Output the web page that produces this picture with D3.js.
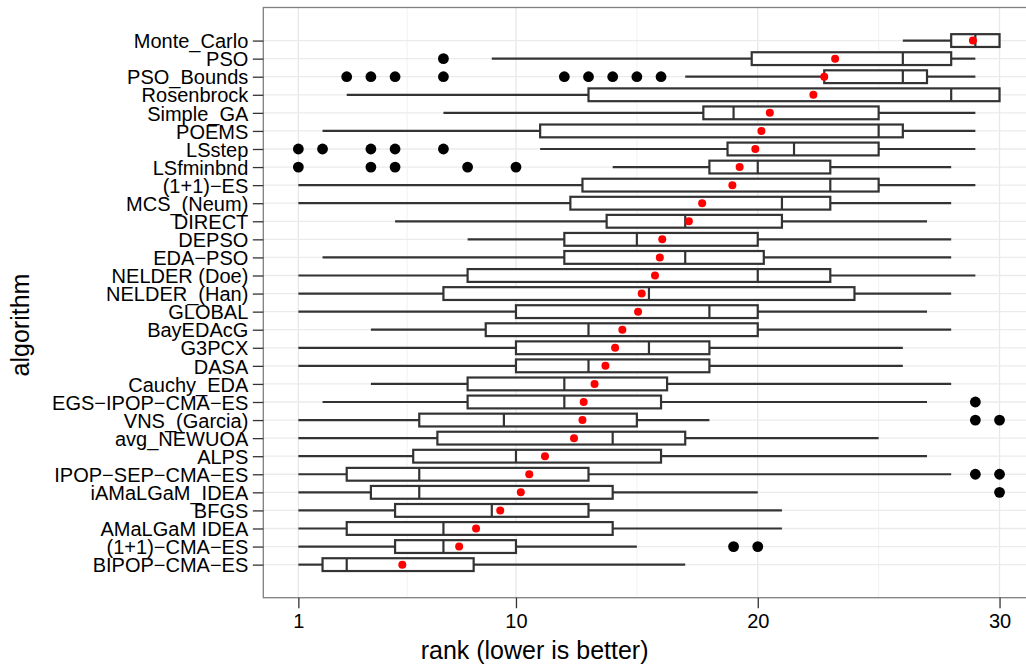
<!DOCTYPE html>
<html>
<head>
<meta charset="utf-8">
<script src="https://cdn.jsdelivr.net/npm/d3@7"></script>
<style>
body{margin:0;background:#fff;}
svg text{font-family:"Liberation Sans",Arial,sans-serif;}
</style>
</head>
<body>
<svg id="chart" width="1026" height="666"></svg>
<script>
// algorithms, top to bottom
var algos = ["Monte_Carlo","PSO","PSO_Bounds","Rosenbrock","Simple_GA","POEMS","LSstep","LSfminbnd",
  "(1+1)\u2212ES","MCS_(Neum)","DIRECT","DEPSO","EDA\u2212PSO","NELDER (Doe)","NELDER_(Han)","GLOBAL",
  "BayEDAcG","G3PCX","DASA","Cauchy_EDA","EGS\u2212IPOP\u2212CMA\u2212ES","VNS_(Garcia)","avg_NEWUOA","ALPS",
  "IPOP\u2212SEP\u2212CMA\u2212ES","iAMaLGaM_IDEA","BFGS","AMaLGaM IDEA","(1+1)\u2212CMA\u2212ES","BIPOP\u2212CMA\u2212ES"]
var whiskLo = [26,9,17,3,7,2,11,14,1,1,5,8,2,1,1,1,4,1,1,4,2,1,1,1,1,1,1,1,1,1]
var q1 = [28,19.75,22.75,13,17.75,11,18.75,18,12.75,12.25,13.75,12,12,8,7,10,8.75,10,10,8,8,6,6.75,5.75,3,4,5,3,5,2]
var med = [29,26,26,28,19,25,21.5,20,23,21,17,15,17,20,15.5,18,13,15.5,13,12,12,9.5,14,10,6,6,9,7,7,3]
var q3 = [30,28,27,30,25,26,25,23,25,23,21,20,20.25,23,24,20,20,18,18,16.25,16,15,17,16,13,14,13,14,10,8.25]
var whiskHi = [30,29,29,30,29,29,29,28,29,28,27,28,28,29,28,27,28,26,26,28,27,18,25,27,28,20,21,21,15,17]
var means = [28.9,23.2,22.75,22.3,20.5,20.15,19.9,19.25,18.95,17.7,17.15,16.05,15.95,15.75,15.2,15.05,
  14.4,14.1,13.7,13.25,12.8,12.75,12.4,11.2,10.55,10.2,9.35,8.35,7.65,5.3]
var outliers = [[],[7],[3,4,5,7,12,13,14,15,16],[],[],[],[1,2,4,5,7],[1,4,5,8,10],[],[],[],[],[],[],[],[],
  [],[],[],[],[29],[29,30],[],[],[29,30],[30],[],[],[19,20],[]]
var xTicks = [1,10,20,30]
var xMinor = [5.5,15,25]

var L = 263.3, R = 1034.6, T = 7.5, B = 597.7
var svg = d3.select('#chart')
var x = d3.scaleLinear().domain([-0.45,31.45]).range([L,R])
var y = d3.scalePoint().domain(algos).range([T,B]).padding(1.83)
var hb = 6.4 // half box height

svg.append('rect').attr('width',1026).attr('height',666).attr('fill','#fff')

// grid
var g = svg.append('g')
g.selectAll('line.mn').data(xMinor).enter().append('line')
  .attr('x1',d=>x(d)).attr('x2',d=>x(d)).attr('y1',T).attr('y2',B)
  .attr('stroke','#f2f2f2').attr('stroke-width',1)
g.selectAll('line.mj').data(xTicks).enter().append('line')
  .attr('x1',d=>x(d)).attr('x2',d=>x(d)).attr('y1',T).attr('y2',B)
  .attr('stroke','#e8e8e8').attr('stroke-width',1.3)
g.selectAll('line.h').data(algos).enter().append('line')
  .attr('x1',L).attr('x2',R).attr('y1',d=>y(d)).attr('y2',d=>y(d))
  .attr('stroke','#ebebeb').attr('stroke-width',1.3)

// boxes
var bx = svg.append('g').attr('stroke','#333').attr('stroke-width',2.2)
algos.forEach(function(a,i){
  var yc = y(a)
  bx.append('line').attr('x1',x(whiskLo[i])).attr('x2',x(q1[i])).attr('y1',yc).attr('y2',yc)
  bx.append('line').attr('x1',x(q3[i])).attr('x2',x(whiskHi[i])).attr('y1',yc).attr('y2',yc)
  bx.append('rect').attr('x',x(q1[i])).attr('y',yc-hb).attr('width',x(q3[i])-x(q1[i])).attr('height',2*hb)
    .attr('fill','#fff')
  bx.append('line').attr('x1',x(med[i])).attr('x2',x(med[i])).attr('y1',yc-hb).attr('y2',yc+hb)
  svg.selectAll(null).data(outliers[i]).enter().append('circle')
    .attr('cx',d=>x(d)).attr('cy',yc).attr('r',5.4).attr('fill','#000')
})
svg.selectAll('circle.mean').data(means).enter().append('circle')
  .attr('cx',d=>x(d)).attr('cy',(d,i)=>y(algos[i])).attr('r',4).attr('fill','#ff0000')

// panel border
svg.append('rect').attr('x',L).attr('y',T).attr('width',R-L).attr('height',B-T)
  .attr('fill','none').attr('stroke','#7f7f7f').attr('stroke-width',1.3)

// axes
var ay = svg.append('g').attr('transform','translate('+L+',0)')
  .call(d3.axisLeft(y).tickSize(10.5).tickPadding(4.5))
ay.select('.domain').remove()
ay.selectAll('line').attr('stroke','#333').attr('stroke-width',1.3)
ay.selectAll('text').attr('font-size',20).attr('fill','#000').attr('dy','0.36em')
  .style('font-family','"Liberation Sans",Arial,sans-serif')

var ax = svg.append('g').attr('transform','translate(0,'+B+')')
  .call(d3.axisBottom(x).tickValues(xTicks).tickSize(10.5).tickPadding(6))
ax.select('.domain').remove()
ax.selectAll('line').attr('stroke','#333').attr('stroke-width',1.3)
ax.selectAll('text').attr('font-size',20).attr('fill','#000')
  .style('font-family','"Liberation Sans",Arial,sans-serif')

// titles
svg.append('text').attr('x',534.6).attr('y',659).attr('text-anchor','middle')
  .attr('font-size',25).attr('fill','#000').text('rank (lower is better)')
svg.append('text').attr('transform','translate(28.5,325) rotate(-90)').attr('text-anchor','middle')
  .attr('font-size',25).attr('fill','#000').text('algorithm')
</script>
</body>
</html>
